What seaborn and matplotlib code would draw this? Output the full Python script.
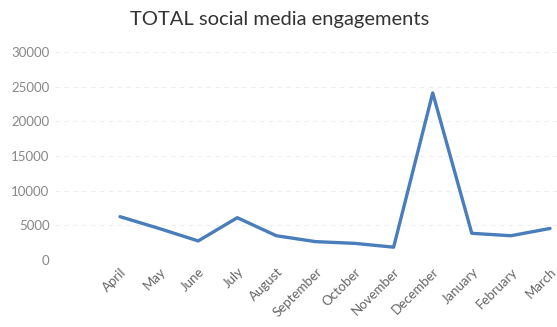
import matplotlib
matplotlib.use("Agg")
import matplotlib.pyplot as plt
import seaborn as sns
import pandas as pd

months = ["April", "May", "June", "July", "August", "September", "October",
          "November", "December", "January", "February", "March"]
engagements = [6250, 4550, 2750, 6100, 3500, 2650, 2400, 1850, 24100, 3850, 3500, 4550]
y_ticks = [0, 5000, 10000, 15000, 20000, 25000, 30000]

sns.set_theme(style="white")
plt.rcParams['font.family'] = ['Lato', 'DejaVu Sans']

W, H = 557, 327
fig = plt.figure(figsize=(W / 100, H / 100), dpi=100)
ax = fig.add_axes([55 / W, 67 / H, (W - 55) / W, 208 / H])

df = pd.DataFrame({"month": months, "value": engagements})
df["pos"] = range(len(months))
sns.lineplot(data=df, x="pos", y="value", ax=ax, color="#4a7dbb", linewidth=2.4)

ax.set_xlim(-65 / 39.09, (557 - 120) / 39.09)
ax.set_ylim(0, 30000)
ax.set_yticks(y_ticks)
ax.set_yticklabels([str(v) for v in y_ticks], color="#888888", fontsize=9.5)
ax.set_xticks(range(len(months)))
ax.set_xticklabels(months, rotation=45, ha="right", rotation_mode="anchor",
                   color="#666666", fontsize=9.5)
ax.tick_params(axis="y", length=0, pad=4)
ax.tick_params(axis="x", length=0, pad=4)
ax.set_xlabel("")
ax.set_ylabel("")
for s in ax.spines.values():
    s.set_visible(False)
ax.yaxis.grid(True, color="#efefef", linewidth=0.8, linestyle=(0, (4, 4)))
ax.set_axisbelow(True)

fig.text(280 / W, 1 - 20 / H, "TOTAL social media engagements", ha="center", va="center",
         fontsize=14.5, color="#333333")

fig.savefig("out.png", dpi=100, facecolor="white")
